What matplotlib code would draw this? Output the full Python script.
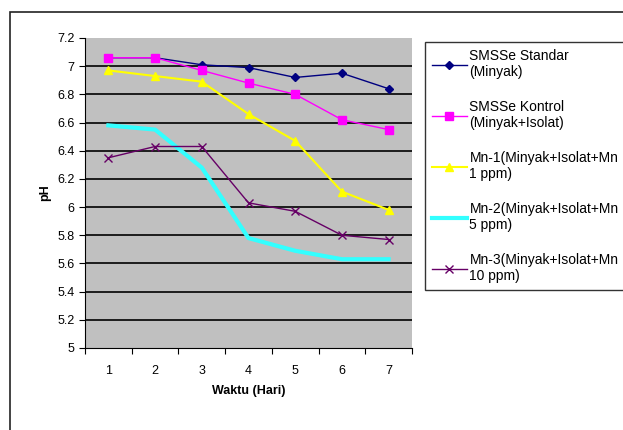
import matplotlib
matplotlib.use('Agg')
import matplotlib.pyplot as plt
from matplotlib.patches import Rectangle

plt.rcParams['font.family'] = ['Liberation Sans Narrow', 'Liberation Sans', 'DejaVu Sans']

days = [1, 2, 3, 4, 5, 6, 7]
standar = [7.06, 7.06, 7.01, 6.99, 6.92, 6.95, 6.84]
kontrol = [7.06, 7.06, 6.97, 6.88, 6.80, 6.62, 6.55]
mn1 = [6.97, 6.93, 6.89, 6.66, 6.47, 6.11, 5.98]
mn2 = [6.58, 6.55, 6.28, 5.78, 5.69, 5.63, 5.63]
mn3 = [6.35, 6.43, 6.43, 6.03, 5.97, 5.80, 5.77]
labels = ['SMSSe Standar\n(Minyak)', 'SMSSe Kontrol\n(Minyak+Isolat)',
          'Mn-1(Minyak+Isolat+Mn\n1 ppm)', 'Mn-2(Minyak+Isolat+Mn\n5 ppm)',
          'Mn-3(Minyak+Isolat+Mn\n10 ppm)']
yticks = [5, 5.2, 5.4, 5.6, 5.8, 6, 6.2, 6.4, 6.6, 6.8, 7, 7.2]
ytick_labels = ['5', '5.2', '5.4', '5.6', '5.8', '6', '6.2', '6.4', '6.6', '6.8', '7', '7.2']

fig = plt.figure(figsize=(6.23, 4.30), dpi=100)
fig.patches.append(Rectangle((10 / 623, -0.01), 1.0, 1 - 12 / 430 + 0.01,
                             transform=fig.transFigure, fill=False,
                             edgecolor='#222222', linewidth=1.2))
ax = fig.add_axes([85 / 623, 1 - 348 / 430, 327 / 623, 310 / 430])
ax.set_facecolor('#c0c0c0')

lines = []
lines += ax.plot(days, standar, color='#000080', marker='D', markersize=4, linewidth=1)
lines += ax.plot(days, kontrol, color='#ff00ff', marker='s', markersize=6, linewidth=1)
lines += ax.plot(days, mn1, color='#ffff00', marker='^', markersize=6, linewidth=1.5)
lines += ax.plot(days, mn2, color='#33ffff', linewidth=3)
lines += ax.plot(days, mn3, color='#660066', marker='x', markersize=6, linewidth=1)

for y in yticks[1:-1]:
    ax.axhline(y, color='black', linewidth=1.2, zorder=1)

ax.set_xlim(0.5, 7.5)
ax.set_ylim(5, 7.2)
ax.set_yticks(yticks)
ax.set_yticklabels(ytick_labels, fontsize=9)
ax.set_xticks([d - 0.5 for d in days] + [7.5])
ax.set_xticklabels([])
ax.set_xticks(days, minor=True)
ax.set_xticklabels([str(d) for d in days], minor=True, fontsize=9)
ax.tick_params(axis='x', which='minor', length=0, pad=12)
ax.tick_params(axis='x', which='major', length=4, direction='out')
ax.tick_params(axis='y', length=4, direction='out')
for side in ['top', 'right']:
    ax.spines[side].set_visible(False)
ax.set_xlabel('Waktu (Hari)', fontsize=9, fontweight='bold', labelpad=6)
ax.set_ylabel('pH', fontsize=9, fontweight='bold', labelpad=4)

leg = fig.legend(lines, labels, loc='upper left', bbox_to_anchor=(425 / 623, 1 - 42 / 430),
                 fontsize=10, frameon=True, fancybox=False, edgecolor='black',
                 handlelength=2.5, labelspacing=1.5, borderpad=0.5, handletextpad=0.2,
                 borderaxespad=0)
leg.get_frame().set_linewidth(1)

fig.savefig('out.png', dpi=100)
